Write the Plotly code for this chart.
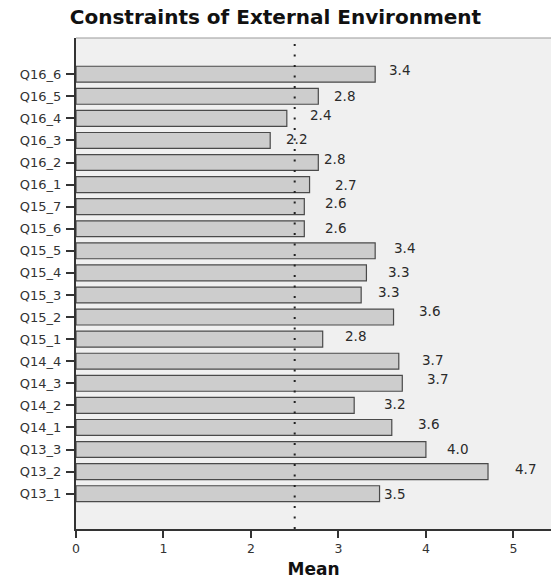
import plotly.graph_objects as go

# Data (bottom to top as displayed)
categories = ["Q13_1", "Q13_2", "Q13_3", "Q14_1", "Q14_2", "Q14_3", "Q14_4",
              "Q15_1", "Q15_2", "Q15_3", "Q15_4", "Q15_5", "Q15_6", "Q15_7",
              "Q16_1", "Q16_2", "Q16_3", "Q16_4", "Q16_5", "Q16_6"]
means = [3.47, 4.71, 4.00, 3.61, 3.18, 3.73, 3.69,
         2.82, 3.63, 3.26, 3.32, 3.42, 2.61, 2.61,
         2.67, 2.77, 2.22, 2.41, 2.77, 3.42]
reference_value = 2.5
x_ticks = [0, 1, 2, 3, 4, 5]

# label placement offsets in pixels (style only)
label_dx = [2, 25, 19, 24, 28, 23, 21, 20, 23, 15, 20, 17, 19, 19, 23, 4, 14, 21, 14, 12]
label_dy = [0, 3, 1, 3, 1, 4, 1, 3, 6, 3, 1, 3, 1, 4, 0, 4, 1, 3, 0, 4]

fig = go.Figure()
fig.add_trace(go.Bar(
    x=means, y=categories, orientation="h",
    marker=dict(color="#CDCDCD", line=dict(color="#4a4a4a", width=1.2)),
    width=0.72, hoverinfo="x+y",
))

for c, v, dx, dy in zip(categories, means, label_dx, label_dy):
    fig.add_annotation(x=v, y=c, text=f"{v:.1f}", showarrow=False,
                       xanchor="left", yanchor="middle", xshift=dx, yshift=dy,
                       font=dict(family="DejaVu Sans", size=13.5, color="#2a2a2a"))

fig.add_shape(type="line", x0=reference_value, x1=reference_value, xref="x",
              y0=0, y1=1, yref="paper",
              line=dict(color="#222222", width=2, dash="2px,8.5px"))

fig.update_layout(
    width=551, height=579,
    margin=dict(l=76, r=0, t=38, b=50, autoexpand=False),
    paper_bgcolor="white", plot_bgcolor="#F0F0F0",
    showlegend=False,
    title=dict(text="<b>Constraints of External Environment</b>",
               x=0.5, xanchor="center", y=0.971, yanchor="middle",
               font=dict(family="DejaVu Sans", size=20, color="#111111")),
    xaxis=dict(range=[0, 5.43], tickvals=x_ticks, ticks="outside", ticklen=7,
               tickwidth=1.5, tickcolor="#333333", showgrid=False, zeroline=False,
               showline=True, linecolor="#333333", linewidth=1.5, automargin=False,
               tickfont=dict(family="DejaVu Sans", size=12.5, color="#333333"),
               title=dict(text="<b>Mean</b>", standoff=16,
                          font=dict(family="DejaVu Sans", size=17, color="#111111"))),
    yaxis=dict(type="category", categoryorder="array", categoryarray=categories,
               range=[-1.6, 20.64], ticks="outside", ticklen=8, tickwidth=1.5,
               tickcolor="#333333", showgrid=False, zeroline=False,
               showline=True, linecolor="#333333", linewidth=2, automargin=False,
               ticklabelstandoff=2,
               tickfont=dict(family="DejaVu Sans", size=13, color="#333333")),
)
fig.add_shape(type="line", xref="paper", yref="paper", x0=0, x1=1, y0=1, y1=1,
              line=dict(color="#999999", width=1))

fig.write_html("out.html", config={"displayModeBar": False},
               post_script="document.body.style.margin='0';")
